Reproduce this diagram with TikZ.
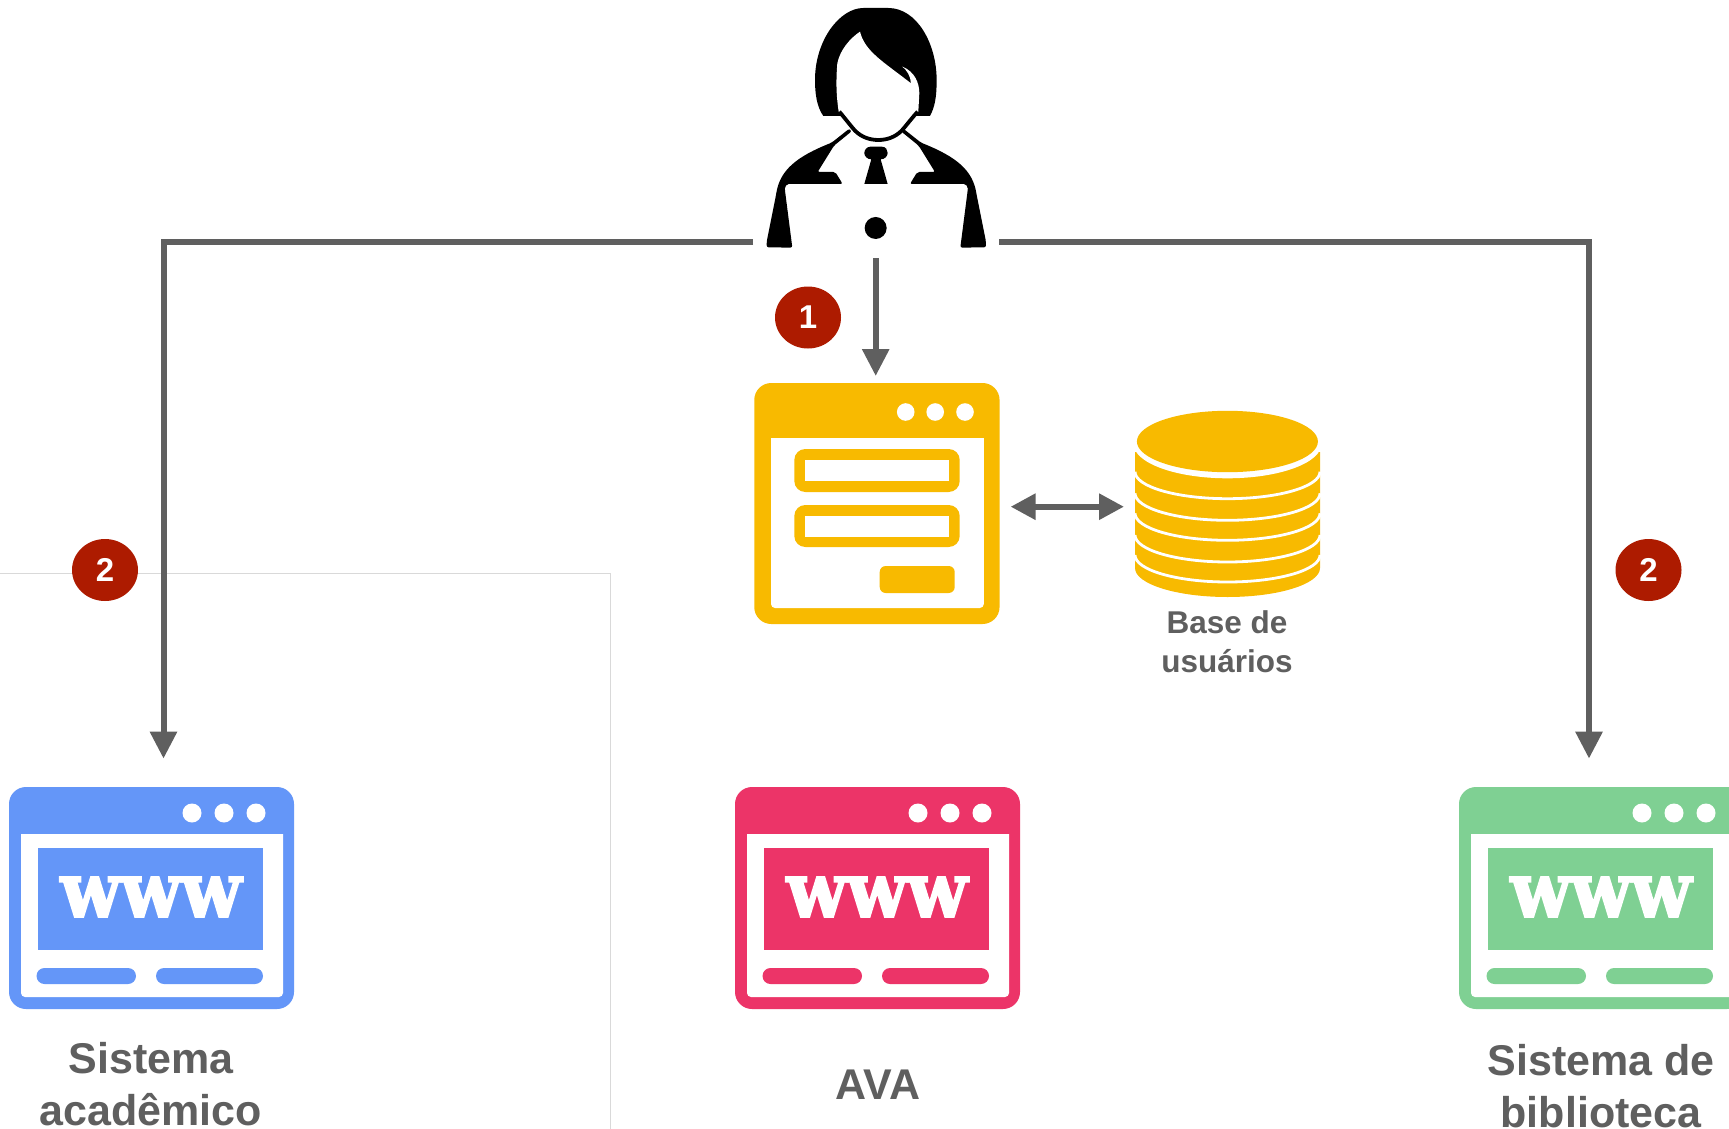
\documentclass[tikz,border=0pt]{standalone}
\usepackage{fontspec}
\setmainfont{Liberation Sans}
\newfontfamily\wwwfont[FakeBold=2.5,FakeStretch=0.91]{DejaVu Serif Bold}
\usetikzlibrary{arrows.meta,shapes.geometric}
\definecolor{cblue}{HTML}{6496F8}
\definecolor{cpink}{HTML}{EC3468}
\definecolor{cgreen}{HTML}{7FD093}
\definecolor{cyellow}{HTML}{F8BA00}
\definecolor{cgray}{HTML}{5F5F5F}
\definecolor{cred}{HTML}{AD1B00}
\definecolor{cline}{HTML}{D9D9D9}
\tikzset{
  winbody/.style={rectangle,rounded corners=17pt,inner sep=0pt,outer sep=0pt},
  conn/.style={draw=cgray,line width=6pt,-{Triangle[length=27pt,width=26pt]}},
  dconn/.style={draw=cgray,line width=6pt,{Triangle[length=25pt,width=25pt]}-{Triangle[length=25pt,width=25pt]}},
  badge/.style={ellipse,fill=cred,text=white,minimum width=66pt,minimum height=62pt,inner sep=0pt,font=\fontsize{33}{33}\selectfont\bfseries},
  biglabel/.style={align=center,text=cgray,inner sep=0pt,font=\fontsize{43}{52}\selectfont\bfseries},
  smalllabel/.style={align=center,text=cgray,inner sep=0pt,font=\fontsize{31.5}{39}\selectfont\bfseries},
  wwwtxt/.style={text=white,inner sep=0pt,font=\fontsize{77}{77}\wwwfont},
  dotw/.style={fill=white},
}
\newcommand{\wwwwindow}[3]{%
  \node[winbody,fill=#3,minimum width=285pt,minimum height=222pt] (#1) at (151.5+#2,898) {};
  \fill[white] (21+#2,834) -- (283+#2,834) [rounded corners=4pt] -- (283+#2,997) -- (21+#2,997) [sharp corners] -- cycle;
  \fill[#3] (38+#2,848) rectangle (262.5+#2,950);
  \fill[dotw] (192+#2,813) circle (9.5pt) (224+#2,813) circle (9.5pt) (256+#2,813) circle (9.5pt);
  \fill[#3,rounded corners=8pt] (36.5+#2,968) rectangle (136+#2,984);
  \fill[#3,rounded corners=8pt] (156+#2,968) rectangle (263+#2,984);
  \node[wwwtxt] (#1www) at (151+#2,897) {www};
}
\begin{document}
\begin{tikzpicture}[x=1pt,y=-1pt]
\useasboundingbox (0,0) rectangle (1729,1129);
\clip (0,0) rectangle (1729,1129);
\fill[white] (0,0) rectangle (1729,1129);
% thin frame
\draw[cline,line width=1pt] (0,573.4) -- (610,573.4) -- (610,1129);

% person
\begin{scope}[shift={(740,0)},x=0.3333pt,y=-0.3333pt]
  \fill[black] (250,348) .. controls (230,320) and (225,280) .. (225,240)
    .. controls (225,120) and (300,24) .. (370,24) -- (445,24)
    .. controls (530,24) and (590,130) .. (590,240)
    .. controls (590,290) and (585,320) .. (570,348) -- cycle;
  \fill[white] (360,95) .. controls (375,155) and (430,185) .. (513,250)
    .. controls (512,228) and (500,210) .. (487,200)
    .. controls (525,215) and (538,250) .. (538,280) -- (535,335)
    .. controls (515,355) and (500,375) .. (485,392) .. controls (465,412) and (440,418) .. (415,418)
    .. controls (390,418) and (365,412) .. (345,392)
    .. controls (330,375) and (315,355) .. (296,335) .. controls (288,280) and (288,240) .. (292,190)
    .. controls (300,150) and (330,115) .. (360,95) -- cycle;
  \draw[black,line width=3.8pt,line join=round] (298,335)
    .. controls (315,355) and (330,375) .. (345,392) .. controls (365,412) and (390,420) .. (415,420)
    .. controls (440,420) and (465,412) .. (485,392)
    .. controls (500,375) and (515,355) .. (533,335);
  % shoulders
  \fill[black,rounded corners=2pt] (80,742) -- (80,725) -- (108,585)
    .. controls (120,510) and (170,470) .. (275,428) -- (328,386) -- (335,394) -- (282,437)
    -- (233,516) -- (286,516) -- (308,552) -- (152,552)
    .. controls (140,552) and (134,560) .. (135,572) -- (157,743) -- cycle;
  \fill[black,rounded corners=2pt] (738,742) -- (738,725) -- (710,585)
    .. controls (698,510) and (648,470) .. (543,428) -- (490,386) -- (483,394) -- (536,437)
    -- (585,516) -- (532,516) -- (510,552) -- (666,552)
    .. controls (678,552) and (684,560) .. (683,572) -- (661,743) -- cycle;
  % tie
  \fill[black] (392,440) -- (425,440) .. controls (438,440) and (443,450) .. (443,459)
    .. controls (443,468) and (435,478) .. (422,478) -- (443,552) -- (373,552)
    -- (394,478) .. controls (381,478) and (373,468) .. (373,459)
    .. controls (373,450) and (380,440) .. (392,440) -- cycle;
  \fill[black] (407,684) circle (11pt);
\end{scope}
\coordinate (pL) at (753,241.5);
\coordinate (pR) at (999,241.5);
\coordinate (pB) at (875.7,258);
\coordinate (aL) at (163.5,758.6);
\coordinate (aR) at (1589,758.6);
\coordinate (aB) at (875.7,376);
\coordinate (dL) at (1010.6,506.7);
\coordinate (dR) at (1124,506.7);

% login window
\node[winbody,fill=cyellow,minimum width=245.3pt,minimum height=241pt] (login) at (876.9,503.5) {};
\fill[white] (771,438) -- (983.8,438) [rounded corners=4pt] -- (983.8,608) -- (771,608) [sharp corners] -- cycle;
\fill[dotw] (905.7,412) circle (8.8pt) (935.2,412) circle (8.8pt) (965,412) circle (8.8pt);
\fill[cyellow,rounded corners=11pt] (794.3,449) rectangle (959.7,492);
\fill[white] (805,460) rectangle (949,481);
\fill[cyellow,rounded corners=11pt] (794.3,505) rectangle (959.7,547);
\fill[white] (805,516) rectangle (949,537);
\fill[cyellow,rounded corners=6pt] (879.7,566) rectangle (954.7,593);

% database
\fill[cyellow] (1135,452) -- (1320,452) -- (1320,568)
   arc[start angle=0,end angle=-180,x radius=92.5pt,y radius=29pt] -- cycle;
\foreach \yc in {471.7,493.3,513.3,535,555}{
  \draw[white,line width=2.8pt] (1320,\yc) arc[start angle=0,end angle=-180,x radius=92.5pt,y radius=27pt];
}
\fill[white] (1227.5,443.8) ellipse[x radius=94pt,y radius=34.5pt];
\node[ellipse,fill=cyellow,minimum width=181pt,minimum height=61.4pt,inner sep=0pt] (db) at (1227.4,441.5) {};
\node[smalllabel] (dblabel) at (1227,642) {Base de\\usuários};

% web windows
\wwwwindow{acad}{0}{cblue}
\wwwwindow{ava}{726}{cpink}
\wwwwindow{bib}{1450}{cgreen}
\node[biglabel] (acadlabel) at (151,1084) {Sistema\\acadêmico};
\node[biglabel] (avalabel) at (878,1085) {AVA};
\node[biglabel] (biblabel) at (1601,1086) {Sistema de\\biblioteca};

% connectors
\draw[conn] (pL) -| (aL);
\draw[conn] (pR) -| (aR);
\draw[conn] (pB) -- (aB);
\draw[dconn] (dL) -- (dR);

% badges
\node[badge] (b1) at (808,317.5) {1};
\node[badge] (b2) at (105,570) {2};
\node[badge] (b3) at (1648.5,570) {2};
\end{tikzpicture}
\end{document}
